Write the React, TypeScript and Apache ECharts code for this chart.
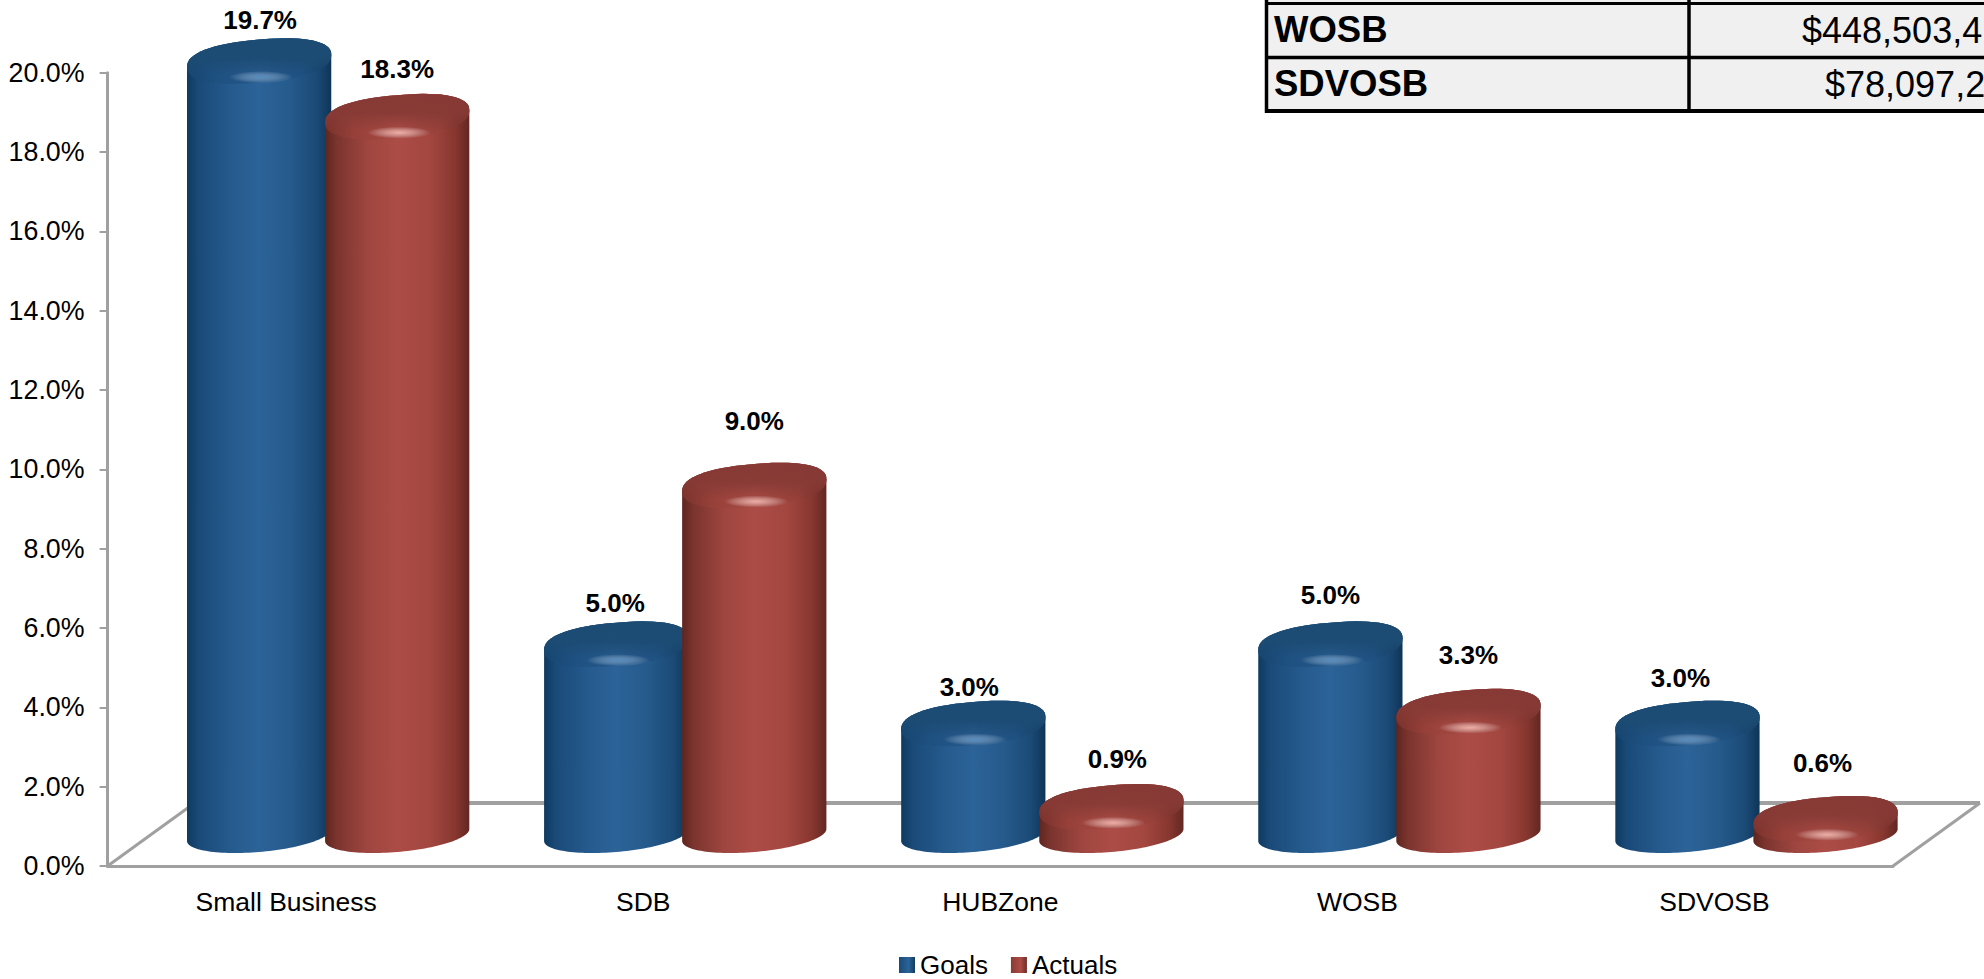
import React, { useEffect, useRef } from "react";
import * as echarts from "echarts";

const categories = ["Small Business", "SDB", "HUBZone", "WOSB", "SDVOSB"];
const goals = [19.7, 5.0, 3.0, 5.0, 3.0];
const actuals = [18.3, 9.0, 0.9, 3.3, 0.6];
const goalLabelLift = [19, 19, 15, 27, 24];
const actualLabelLift = [26, 43, 26, 35, 34];
const goalLabelShift = [1, -1, -4, 0, -7];
const actualLabelShift = [0, 0, 6, 0, -3];
const tableRows = [
  ["WOSB", "$448,503,4"],
  ["SDVOSB", "$78,097,2"],
];

const FONT = '"Liberation Sans", Arial, sans-serif';
const GRAY = "#a0a0a0";
const L = 107.6, R = 1893, T = 72.7, B = 866, DX = 87, DY = 63;

const grad = (stops: [number, string][], x2 = 1, y2 = 0) => ({
  type: "linear", x: 0, y: 0, x2, y2,
  colorStops: stops.map(([offset, color]) => ({ offset, color })),
});

const palettes = {
  blue: {
    body: grad([[0, "#0f3a60"], [0.08, "#1a4a78"], [0.3, "#255a8d"], [0.5, "#2c6398"], [0.72, "#255a8b"], [0.9, "#1b4a76"], [1, "#0e3558"]]),
    rim: grad([[0, "#164570"], [0.2, "#1e5080"], [0.5, "#26598c"], [0.8, "#1e5080"], [1, "#123d62"]]),
    shade: grad([[0, "rgba(28,75,115,1)"], [0.42, "rgba(28,75,115,0.95)"], [0.8, "rgba(28,75,115,0)"], [1, "rgba(28,75,115,0)"]], 0, 1),
    glow: "rgba(115,170,220,0.62)",
    legend: grad([[0, "#1a4a78"], [0.6, "#2c6398"], [1, "#143c60"]]),
  },
  red: {
    body: grad([[0, "#5f2520"], [0.08, "#7b342e"], [0.3, "#a04640"], [0.5, "#ac4c46"], [0.72, "#a44741"], [0.9, "#87372f"], [1, "#632722"]]),
    rim: grad([[0, "#7a322c"], [0.2, "#964039"], [0.5, "#a84a44"], [0.8, "#964039"], [1, "#702c27"]]),
    shade: grad([[0, "rgba(135,58,53,1)"], [0.42, "rgba(135,58,53,0.95)"], [0.8, "rgba(135,58,53,0)"], [1, "rgba(135,58,53,0)"]], 0, 1),
    glow: "rgba(255,195,185,0.8)",
    legend: grad([[0, "#8a3a35"], [0.6, "#ac4c46"], [1, "#6e2c27"]]),
  },
};

// skewed ellipse point, the projection of a circle lying on the floor;
// p < 1 squares the curve off into the rounded shoulders of the cylinder's top
const pt = (cx: number, cy: number, a: number, b: number, s: number, t: number, p: number) => {
  const c = Math.cos(t);
  const q = Math.sin(t);
  const cp = Math.sign(c) * Math.pow(Math.abs(c), p);
  const sp = Math.sign(q) * Math.pow(Math.abs(q), p);
  return [cx + a * cp, cy + b * sp - s * cp];
};
const arc = (cx: number, cy: number, a: number, b: number, s: number, t0: number, t1: number, p = 1) => {
  const out: number[][] = [];
  for (let i = 0; i <= 64; i++) out.push(pt(cx, cy, a, b, s, t0 + ((t1 - t0) * i) / 64, p));
  return out;
};
const toPath = (pts: number[][]) =>
  "M" + pts.map((p) => p[0].toFixed(2) + " " + p[1].toFixed(2)).join("L") + "Z";

const cylinder = (
  pal: typeof palettes.blue,
  bandShift: number,
  lifts: number[],
  shifts: number[]
) => (params: any, api: any) => {
  const idx = api.value(0);
  const v = api.value(1);
  const band = api.size([1, 0])[0];
  const [x0, y] = api.coord([idx, v]);
  const base = api.coord([idx, 0])[1];
  const cx = x0 + band * bandShift;
  const a = band * 0.202;
  const b = 21.5;
  const s = 6;
  const p = 0.85;
  const topC = y - 23.5;
  const botC = base - 31;
  const bb = 17;
  const bodyPts = [
    ...arc(cx, topC, a, b, s, Math.PI, 2 * Math.PI, p),
    ...arc(cx, botC, a, bb, s, 0, Math.PI),
  ];
  const whole = Math.PI * 2;
  const topD = toPath(arc(cx, topC, a, b, s, 0, whole, p));
  return {
    type: "group",
    children: [
      { type: "path", shape: { pathData: toPath(bodyPts) }, style: { fill: pal.body } },
      { type: "path", shape: { pathData: topD }, style: { fill: pal.rim } },
      { type: "path", shape: { pathData: topD }, style: { fill: pal.shade } },
      {
        type: "ellipse",
        shape: { cx: cx + 2, cy: topC + 16, rx: 32, ry: 6 },
        style: {
          fill: {
            type: "radial", x: 0.5, y: 0.5, r: 0.5,
            colorStops: [
              { offset: 0, color: pal.glow },
              { offset: 1, color: "rgba(255,255,255,0)" },
            ],
          },
        },
      },
      {
        type: "text",
        style: {
          text: v.toFixed(1) + "%",
          x: cx + shifts[idx],
          y: y - 45.5 - lifts[idx],
          align: "center",
          verticalAlign: "middle",
          fill: "#000",
          font: "bold 26px " + FONT,
        },
      },
    ],
  };
};

const line = (x1: number, y1: number, x2: number, y2: number, stroke: string, lineWidth: number, z = 1) => ({
  type: "line", z, shape: { x1, y1, x2, y2 }, style: { stroke, lineWidth },
});
const label = (text: string, x: number, y: number, font: string) => ({
  type: "text", z: 6, style: { text, x, y, font, fill: "#000", align: "left", verticalAlign: "middle" },
});

export default function App() {
  const ref = useRef<HTMLDivElement>(null);
  useEffect(() => {
    document.body.style.margin = "0";
    document.body.style.overflow = "hidden";
    const chart = echarts.init(ref.current!, null, { renderer: "svg" });
    const axisColor = { color: GRAY, width: 3 };
    chart.setOption({
      animation: false,
      backgroundColor: "#fff",
      textStyle: { fontFamily: FONT },
      grid: { left: L, top: T, width: R - L, height: B - T, containLabel: false },
      legend: {
        left: 899,
        top: 952,
        padding: 0,
        itemWidth: 16,
        itemHeight: 16,
        itemGap: 23,
        icon: "rect",
        textStyle: { fontSize: 26, lineHeight: 24, height: 24, color: "#000", fontFamily: FONT },
        data: ["Goals", "Actuals"],
      },
      xAxis: {
        type: "category",
        data: categories,
        axisLine: { lineStyle: axisColor },
        axisTick: { length: 9, lineStyle: { color: GRAY, width: 2 } },
        axisLabel: { fontSize: 26.5, color: "#000", margin: 22, fontFamily: FONT },
      },
      yAxis: {
        type: "value",
        min: 0,
        max: 20,
        interval: 2,
        splitLine: { show: false },
        axisLine: { show: true, lineStyle: axisColor },
        axisTick: { show: true, length: 8, lineStyle: { color: GRAY, width: 2 } },
        axisLabel: {
          fontSize: 26.8,
          color: "#000",
          margin: 23,
          fontFamily: FONT,
          formatter: (v: number) => v.toFixed(1) + "%",
        },
      },
      series: [
        {
          name: "Goals",
          type: "custom",
          z: 3,
          clip: false,
          itemStyle: { color: palettes.blue.legend },
          encode: { x: 0, y: 1 },
          data: goals.map((v, i) => [i, v]),
          renderItem: cylinder(palettes.blue, -0.0756, goalLabelLift, goalLabelShift),
        },
        {
          name: "Actuals",
          type: "custom",
          z: 4,
          clip: false,
          itemStyle: { color: palettes.red.legend },
          encode: { x: 0, y: 1 },
          data: actuals.map((v, i) => [i, v]),
          renderItem: cylinder(palettes.red, 0.311, actualLabelLift, actualLabelShift),
        },
      ],
      graphic: [
        line(L, B, L + DX, B - DY, GRAY, 3),
        line(L + DX, B - DY, R + DX, B - DY, GRAY, 4),
        line(R + DX, B - DY, R, B, GRAY, 3),
        { type: "rect", z: 5, shape: { x: 1265, y: 0, width: 719, height: 111 }, style: { fill: "#f0f0f0" } },
        line(1266.5, 0, 1266.5, 113, "#000", 3.5, 6),
        line(1689, 0, 1689, 111, "#000", 3.5, 6),
        line(1265, 3.5, 1984, 3.5, "#000", 3, 6),
        line(1265, 57.5, 1984, 57.5, "#000", 3.5, 6),
        line(1265, 111, 1984, 111, "#000", 4, 6),
        label(tableRows[0][0], 1274, 29, "bold 36.5px " + FONT),
        label(tableRows[1][0], 1274, 83, "bold 36.5px " + FONT),
        label(tableRows[0][1], 1802, 30, "36px " + FONT),
        label(tableRows[1][1], 1825, 84, "36px " + FONT),
      ],
    });
    return () => chart.dispose();
  }, []);
  return <div ref={ref} style={{ width: 1984, height: 979 }} />;
}
